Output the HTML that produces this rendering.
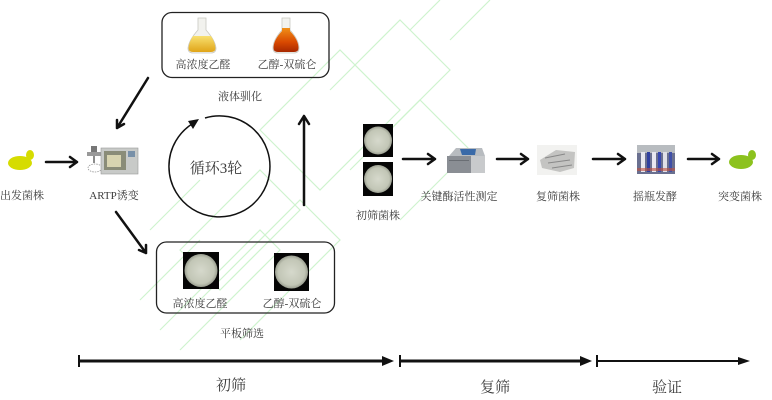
<!DOCTYPE html>
<html><head><meta charset="utf-8">
<style>
html,body{margin:0;padding:0;background:#fff;}
svg{display:block;}
text{font-family:"Liberation Serif","Noto Serif CJK SC",serif;fill:#3a3a3a;}
</style></head>
<body>
<svg width="772" height="400" viewBox="0 0 772 400" xmlns="http://www.w3.org/2000/svg">
<defs>
<radialGradient id="plate" cx="50%" cy="50%" r="50%">
<stop offset="0" stop-color="#d6d9cc"/><stop offset="0.8" stop-color="#c2c6b6"/><stop offset="1" stop-color="#9a9e90"/>
</radialGradient>
<linearGradient id="liq1" x1="0" y1="0" x2="0" y2="1"><stop offset="0" stop-color="#f8e070"/><stop offset="1" stop-color="#e0a418"/></linearGradient>
<linearGradient id="liq2" x1="0" y1="0" x2="0" y2="1"><stop offset="0" stop-color="#f09018"/><stop offset="0.6" stop-color="#d84800"/><stop offset="1" stop-color="#a82800"/></linearGradient>
</defs>

<!-- faint watermark -->
<g fill="none" stroke="#c9f2c9" stroke-width="1.2" opacity="0.9">
<path d="M180,250 L260,170 L300,210 L220,290 Z"/>
<path d="M200,300 L300,200 L340,240 L240,340"/>
<path d="M260,130 L340,50 L400,110 L320,190 Z"/>
<path d="M330,90 L400,20 L450,70 L380,140"/>
<path d="M410,30 L440,0 M450,40 L490,0"/>
<path d="M350,170 L420,100 L470,150 L400,220"/>
<path d="M150,230 L200,180 M140,300 L200,240"/>
<path d="M160,330 L260,230 L280,250 L180,350"/>
</g>

<!-- top box -->
<rect x="162" y="12.5" width="167" height="65" rx="10" fill="none" stroke="#222" stroke-width="1.3"/>
<!-- flask 1 -->
<g>
<path d="M198,18 L206,18 L206,30 Q215,40 216,48 Q216,53 211,53 L193,53 Q188,53 188,48 Q189,40 198,30 Z" fill="#f2f2ee" stroke="#c8c8c0" stroke-width="0.8"/>
<path d="M193,36 L211,36 Q215,42 215.5,48 Q215.5,52 211,52 L193,52 Q188.5,52 188.5,48 Q189,42 193,36 Z" fill="url(#liq1)"/>
</g>
<g>
<path d="M282,18 L290,18 L290,30 Q299,40 299,48 Q299,53 294,53 L278,53 Q273,53 273,48 Q273,40 282,30 Z" fill="#f2f2ee" stroke="#c8c8c0" stroke-width="0.8"/>
<path d="M282,28 L290,28 L290,31 Q298.5,40 298.5,48 Q298.5,52 294,52 L278,52 Q273.5,52 273.5,48 Q273.5,40 282,31 Z" fill="url(#liq2)"/>
</g>
<text x="203" y="68" font-size="11" text-anchor="middle">高浓度乙醛</text>
<text x="287" y="68" font-size="11" text-anchor="middle">乙醇-双硫仑</text>
<text x="240" y="100" font-size="11" text-anchor="middle">液体驯化</text>

<!-- start strain -->
<ellipse cx="20" cy="163" rx="12" ry="7" fill="#d6dc00"/>
<ellipse cx="30" cy="155" rx="4" ry="5" fill="#d6dc00"/>
<text x="22" y="199" font-size="11" text-anchor="middle">出发菌株</text>

<!-- arrows (chevron heads) -->
<g fill="none" stroke="#111" stroke-width="2.5" stroke-linecap="round" stroke-linejoin="round">
<path d="M46,162 L77,162 M70,157 L77,162 L70,167"/>
<path d="M403,159 L435,159 M428,154 L435,159 L428,164"/>
<path d="M497,159 L528,159 M521,154 L528,159 L521,164"/>
<path d="M593,159 L625,159 M618,154 L625,159 L618,164"/>
<path d="M688,159 L719,159 M712,154 L719,159 L712,164"/>
<path d="M148,78 L117,128 M117,120 L117,128 L124,124"/>
<path d="M116,212 L146,253 M146,245 L146,253 L139,250"/>
<path d="M304,205 L304,116 M299,124 L304,116 L309,124"/>
</g>

<!-- ARTP machine -->
<g>
<rect x="91" y="146" width="6" height="10" fill="#777"/>
<rect x="87" y="152" width="14" height="4" fill="#999"/>
<line x1="94" y1="156" x2="94" y2="163" stroke="#666" stroke-width="1.5"/>
<ellipse cx="95" cy="168" rx="7" ry="4" fill="none" stroke="#999" stroke-width="0.8" stroke-dasharray="1.5,1"/>
<rect x="101" y="148" width="37" height="26" fill="#c8cac8" stroke="#999" stroke-width="0.6"/>
<rect x="104" y="151" width="22" height="19" fill="#8a8c78"/>
<rect x="107" y="155" width="14" height="12" fill="#d8d4b0"/>
<rect x="128" y="151" width="7" height="6" fill="#7890a8"/>
</g>
<text x="114" y="199" font-size="11" text-anchor="middle">ARTP诱变</text>

<!-- cycle circle -->
<path d="M205,118 A50.5,50.5 0 1 1 192,124" fill="none" stroke="#111" stroke-width="1.5"/>
<path d="M199,119 L188,121 L193,129 Z" fill="#111"/>
<text x="216" y="173" font-size="15" text-anchor="middle">循环3轮</text>

<!-- bottom box -->
<rect x="156.5" y="242" width="178" height="71" rx="10" fill="none" stroke="#222" stroke-width="1.3"/>
<rect x="183" y="252" width="36" height="37" fill="#050505"/>
<circle cx="201" cy="270.5" r="16.5" fill="url(#plate)"/>
<rect x="274" y="253" width="35" height="38" fill="#050505"/>
<circle cx="291.5" cy="272" r="16.5" fill="url(#plate)"/>
<text x="200" y="307" font-size="11" text-anchor="middle">高浓度乙醛</text>
<text x="292" y="307" font-size="11" text-anchor="middle">乙醇-双硫仑</text>
<text x="242" y="337" font-size="11" text-anchor="middle">平板筛选</text>

<!-- initial plates -->
<rect x="363" y="124" width="30" height="33" fill="#050505"/>
<circle cx="378" cy="140.5" r="14" fill="url(#plate)"/>
<rect x="363" y="162" width="30" height="34" fill="#050505"/>
<circle cx="378" cy="179" r="14" fill="url(#plate)"/>
<text x="378" y="219" font-size="11" text-anchor="middle">初筛菌株</text>

<!-- enzyme machine -->
<g>
<path d="M449,156 L456,148 L482,148 L485,156 Z" fill="#b8bcc0"/>
<path d="M460,149 L476,149 L475,155 L462,155 Z" fill="#3a6aa8"/>
<rect x="447" y="156" width="38" height="17" fill="#c8cacc"/>
<rect x="447" y="156" width="24" height="17" fill="#8a8e94"/>
<rect x="449" y="160" width="20" height="1" fill="#6a6e74"/>
</g>
<text x="459" y="200" font-size="11" text-anchor="middle">关键酶活性测定</text>

<!-- secondary strain image -->
<rect x="537" y="145" width="40" height="30" fill="#f2f2f0"/>
<path d="M540,160 L556,150 L575,152 L574,168 L560,172 L542,168 Z" fill="#c4c4c2"/>
<path d="M545,158 L565,154 M548,163 L570,160 M552,168 L572,165" stroke="#888" stroke-width="1"/>
<text x="558" y="200" font-size="11" text-anchor="middle">复筛菌株</text>

<!-- shake flask image -->
<rect x="637" y="145" width="38" height="29" fill="#6a7090"/>
<rect x="637" y="145" width="38" height="8" fill="#b8bcc0"/>
<rect x="641" y="152" width="4" height="20" fill="#e8e8f0"/>
<rect x="647" y="152" width="3" height="20" fill="#3040a0"/>
<rect x="652" y="152" width="4" height="20" fill="#e8e8f0"/>
<rect x="658" y="152" width="3" height="20" fill="#3848b0"/>
<rect x="663" y="152" width="4" height="20" fill="#e0e0e8"/>
<rect x="669" y="152" width="3" height="20" fill="#4050a8"/>
<rect x="637" y="168" width="38" height="3" fill="#c05040" opacity="0.6"/>
<text x="655" y="200" font-size="11" text-anchor="middle">摇瓶发酵</text>

<!-- mutant strain -->
<ellipse cx="741" cy="162" rx="12" ry="7" fill="#8cc21e"/>
<ellipse cx="752" cy="155" rx="4" ry="5" fill="#8cc21e"/>
<text x="740" y="200" font-size="11" text-anchor="middle">突变菌株</text>

<!-- timeline -->
<g stroke="#111" fill="#111">
<line x1="79" y1="355" x2="79" y2="367" stroke-width="2"/>
<line x1="79" y1="361" x2="384" y2="361" stroke-width="3"/>
<path d="M394,361 L382,356 L382,366 Z" stroke="none"/>
<line x1="400" y1="355" x2="400" y2="367" stroke-width="2"/>
<line x1="400" y1="361" x2="582" y2="361" stroke-width="3"/>
<path d="M592,361 L580,356 L580,366 Z" stroke="none"/>
<line x1="597" y1="355" x2="597" y2="367" stroke-width="2"/>
<line x1="597" y1="361" x2="740" y2="361" stroke-width="2"/>
<path d="M750,361 L738,357 L738,365 Z" stroke="none"/>
</g>
<text x="231" y="390" font-size="15" text-anchor="middle">初筛</text>
<text x="495" y="392" font-size="15" text-anchor="middle">复筛</text>
<text x="667" y="392" font-size="15" text-anchor="middle">验证</text>
</svg>
</body></html>
